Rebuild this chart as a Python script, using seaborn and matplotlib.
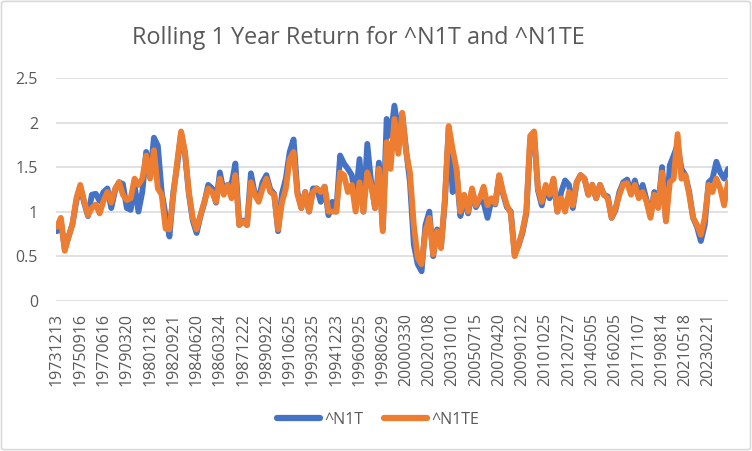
import numpy as np
import pandas as pd
import matplotlib
matplotlib.use("Agg")
import matplotlib.pyplot as plt
import seaborn as sns
from matplotlib.patches import FancyBboxPatch

tick_labels = ["19731213", "19750916", "19770616", "19790320", "19801218", "19820921",
               "19840620", "19860324", "19871222", "19890922", "19910625", "19930325",
               "19941223", "19960925", "19980629", "20000330", "20020108", "20031010",
               "20050715", "20070420", "20090122", "20101025", "20120727", "20140505",
               "20160205", "20171107", "20190814", "20210518", "20230221"]

n1te = [0.83, 0.93, 0.56, 0.72, 0.86, 1.15, 1.30, 1.12, 0.96, 1.04,
        1.08, 0.98, 1.12, 1.22, 1.10, 1.26, 1.33, 1.19, 1.13, 1.15,
        1.37, 1.30, 1.37, 1.63, 1.37, 1.69, 1.26, 1.19, 0.81, 0.80,
        1.19, 1.56, 1.90, 1.67, 1.22, 0.93, 0.80, 0.96, 1.11, 1.26,
        1.22, 1.11, 1.37, 1.19, 1.30, 1.15, 1.41, 0.85, 0.89, 0.85,
        1.33, 1.19, 1.11, 1.26, 1.37, 1.22, 1.19, 0.80, 1.10, 1.26,
        1.59, 1.67, 1.19, 1.04, 1.22, 1.00, 1.22, 1.26, 1.22, 1.28,
        1.00, 1.00, 1.00, 1.44, 1.41, 1.22, 1.30, 1.00, 1.33, 1.00,
        1.44, 1.30, 1.04, 1.48, 0.78, 1.78, 1.48, 2.04, 1.65, 2.11,
        1.67, 1.44, 0.85, 0.48, 0.41, 0.78, 0.93, 0.52, 0.78, 0.59,
        1.15, 1.96, 1.70, 1.48, 1.00, 1.19, 1.00, 1.26, 1.07, 1.15,
        1.28, 1.07, 1.15, 1.09, 1.41, 1.22, 1.07, 0.98, 0.50, 0.63,
        0.78, 1.00, 1.85, 1.90, 1.26, 1.11, 1.30, 1.19, 1.37, 1.00,
        1.15, 1.00, 1.22, 1.07, 1.33, 1.41, 1.37, 1.19, 1.30, 1.15,
        1.30, 1.19, 1.15, 0.93, 1.04, 1.19, 1.31, 1.32, 1.19, 1.30,
        1.15, 1.22, 1.11, 0.93, 1.19, 1.04, 1.44, 0.89, 1.33, 1.37,
        1.87, 1.37, 1.41, 1.19, 0.93, 0.85, 0.74, 0.93, 1.30, 1.22,
        1.37, 1.26, 1.07, 1.33]

n1t = [0.78, 0.90, 0.58, 0.72, 0.86, 1.12, 1.28, 1.10, 0.95, 1.19,
       1.20, 1.12, 1.22, 1.26, 1.04, 1.24, 1.33, 1.31, 1.04, 1.02,
       1.30, 1.00, 1.22, 1.67, 1.40, 1.83, 1.74, 1.22, 0.96, 0.72,
       1.22, 1.52, 1.88, 1.65, 1.20, 0.90, 0.76, 0.95, 1.10, 1.30,
       1.26, 1.10, 1.44, 1.22, 1.30, 1.31, 1.54, 0.85, 0.90, 0.85,
       1.43, 1.20, 1.15, 1.33, 1.41, 1.25, 1.20, 0.78, 1.20, 1.37,
       1.67, 1.81, 1.22, 1.04, 1.22, 1.00, 1.26, 1.26, 1.11, 1.28,
       0.96, 1.11, 1.00, 1.63, 1.54, 1.48, 1.41, 1.15, 1.59, 1.00,
       1.76, 1.33, 1.04, 1.55, 0.80, 2.04, 1.85, 2.19, 1.90, 2.10,
       1.70, 1.33, 0.63, 0.41, 0.33, 0.85, 1.00, 0.50, 0.80, 0.60,
       1.10, 1.95, 1.22, 1.45, 0.95, 1.15, 0.98, 1.24, 1.05, 1.13,
       1.10, 0.93, 1.13, 1.08, 1.40, 1.20, 1.05, 1.00, 0.52, 0.62,
       0.76, 0.98, 1.80, 1.88, 1.24, 1.07, 1.28, 1.15, 1.35, 1.00,
       1.22, 1.35, 1.30, 1.04, 1.33, 1.41, 1.37, 1.19, 1.30, 1.15,
       1.30, 1.19, 1.17, 0.93, 1.02, 1.22, 1.33, 1.36, 1.22, 1.35,
       1.18, 1.30, 1.13, 0.95, 1.22, 1.05, 1.50, 0.90, 1.52, 1.63,
       1.75, 1.48, 1.41, 1.22, 0.93, 0.83, 0.67, 0.85, 1.33, 1.37,
       1.56, 1.44, 1.37, 1.48]

series_names = ["^N1T", "^N1TE"]
colors = ["#4472C4", "#ED7D31"]
label_step = 6

idx = np.arange(len(n1t))
df = pd.DataFrame({
    "idx": np.concatenate([idx, idx]),
    "value": np.concatenate([n1t, n1te]),
    "series": [series_names[0]] * len(n1t) + [series_names[1]] * len(n1te),
})

sns.set_theme(style="white")
plt.rcParams["font.family"] = ["Open Sans", "DejaVu Sans"]

fig = plt.figure(figsize=(7.52, 4.51), dpi=100)
ax = fig.add_axes([56 / 752, 1 - 300.7 / 451, (728 - 56) / 752, (300.7 - 78) / 451])

sns.lineplot(data=df, x="idx", y="value", hue="series", palette=colors,
             linewidth=4.2, ax=ax, legend=True)

ax.set_ylim(0, 2.5)
ax.set_xlim(-0.25, len(n1t) - 1)
ax.set_yticks([0, 0.5, 1, 1.5, 2, 2.5])
ax.set_yticklabels(["0", "0.5", "1", "1.5", "2", "2.5"])
ax.set_xticks(np.arange(0, label_step * len(tick_labels), label_step))
ax.set_xticklabels(tick_labels, rotation=90)
ax.tick_params(axis="y", labelsize=11.5, labelcolor="#595959", length=0, pad=13)
ax.tick_params(axis="x", labelsize=11.5, labelcolor="#595959", length=0, pad=9)
ax.set_xlabel("")
ax.set_ylabel("")
ax.grid(axis="y", color="#D9D9D9", linewidth=1.1)
ax.set_axisbelow(True)
for s in ax.spines.values():
    s.set_visible(False)

sns.move_legend(ax, "center", bbox_to_anchor=(378 / 752, 1 - 420 / 451),
                bbox_transform=fig.transFigure, ncol=2, frameon=False, title=None,
                fontsize=11.5, handlelength=2.7, columnspacing=1.3, handletextpad=0.25)
leg = ax.get_legend()
for t in leg.get_texts():
    t.set_color("#595959")
for h in leg.get_lines():
    h.set_linewidth(4.5)
    h.set_solid_capstyle("round")

fig.text(358 / 752, 1 - 38 / 451, "Rolling 1 Year Return for ^N1T and ^N1TE",
         ha="center", va="center", fontsize=16.8, color="#595959")

border = FancyBboxPatch((0.002, 0.003), 0.996, 0.994, boxstyle="round,pad=0,rounding_size=0.004",
                        transform=fig.transFigure, facecolor="none",
                        edgecolor="#D9D9D9", linewidth=1.2)
fig.patches.append(border)

fig.savefig("out.png", dpi=100, facecolor="white")
